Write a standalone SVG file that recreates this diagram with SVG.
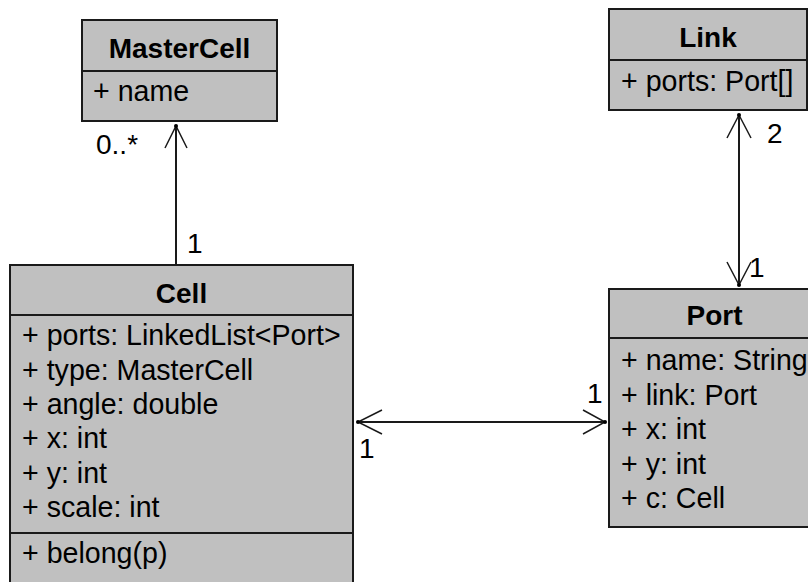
<svg xmlns="http://www.w3.org/2000/svg" width="808" height="582" viewBox="0 0 808 582">
  <style>
    .box { fill: #c0c0c0; stroke: #1a1a1a; stroke-width: 2; }
    .div { stroke: #1a1a1a; stroke-width: 2; }
    .title { font-family: "Liberation Sans", Arial, sans-serif; font-size: 28px; font-weight: bold; fill: #000; text-anchor: middle; }
    .attr { font-family: "Liberation Sans", Arial, sans-serif; font-size: 28.6px; fill: #000; }
    .edge { stroke: #1a1a1a; stroke-width: 2; fill: none; }
    .head { stroke: #1a1a1a; stroke-width: 1.5; fill: none; }
    .tip { fill: #000; }
    .mult { font-family: "Liberation Sans", Arial, sans-serif; font-size: 28px; fill: #000; }
  </style>

  <rect width="808" height="582" fill="#ffffff"/>

  <!-- associations -->
  <g id="connectors">
    <!-- Cell.type -> MasterCell -->
    <line class="edge" x1="176" y1="265" x2="176" y2="126"/>
    <polyline class="head" points="165,148 176,126 187,148"/>
    <circle class="tip" cx="176" cy="126" r="2"/>
    <text class="mult" x="96" y="154">0..*</text>
    <text class="mult" x="187" y="253">1</text>

    <!-- Link <-> Port -->
    <line class="edge" x1="739" y1="115" x2="739" y2="285"/>
    <polyline class="head" points="727,138 739,115 751,138"/>
    <polyline class="head" points="727,262 739,285 751,262"/>
    <circle class="tip" cx="739" cy="115" r="2"/>
    <circle class="tip" cx="739" cy="285" r="2"/>
    <text class="mult" x="767" y="143">2</text>
    <text class="mult" x="749" y="277">1</text>

    <!-- Cell <-> Port -->
    <line class="edge" x1="358" y1="422" x2="605" y2="422"/>
    <polyline class="head" points="382,410 358,422 382,434"/>
    <polyline class="head" points="583,410 605,422 583,434"/>
    <circle class="tip" cx="358" cy="422" r="2"/>
    <circle class="tip" cx="605" cy="422" r="2"/>
    <text class="mult" x="587" y="403">1</text>
    <text class="mult" x="359" y="458">1</text>
  </g>

  <g id="MasterCell">
    <rect class="box" x="82" y="20" width="195" height="101"/>
    <line class="div" x1="82" y1="71" x2="277" y2="71"/>
    <text class="title" x="179.5" y="58">MasterCell</text>
    <text class="attr" x="93" y="101">+ name</text>
  </g>

  <g id="Link">
    <rect class="box" x="609" y="9" width="198" height="101"/>
    <line class="div" x1="609" y1="60" x2="807" y2="60"/>
    <text class="title" x="708" y="47">Link</text>
    <text class="attr" x="621" y="91">+ ports: Port[]</text>
  </g>

  <g id="Cell">
    <rect class="box" x="10" y="265" width="343" height="340"/>
    <line class="div" x1="10" y1="315" x2="353" y2="315"/>
    <line class="div" x1="10" y1="533" x2="353" y2="533"/>
    <text class="title" x="181.5" y="303">Cell</text>
    <text class="attr" x="22" y="345">+ ports: LinkedList&lt;Port&gt;</text>
    <text class="attr" x="22" y="379.5">+ type: MasterCell</text>
    <text class="attr" x="22" y="414">+ angle: double</text>
    <text class="attr" x="22" y="448">+ x: int</text>
    <text class="attr" x="22" y="482.5">+ y: int</text>
    <text class="attr" x="22" y="517">+ scale: int</text>
    <text class="attr" x="22" y="563">+ belong(p)</text>
  </g>

  <g id="Port">
    <rect class="box" x="609" y="289" width="211" height="238"/>
    <line class="div" x1="609" y1="338" x2="820" y2="338"/>
    <text class="title" x="714.5" y="325">Port</text>
    <text class="attr" x="621" y="370">+ name: String</text>
    <text class="attr" x="621" y="404.5">+ link: Port</text>
    <text class="attr" x="621" y="439">+ x: int</text>
    <text class="attr" x="621" y="473.5">+ y: int</text>
    <text class="attr" x="621" y="508">+ c: Cell</text>
  </g>
</svg>
